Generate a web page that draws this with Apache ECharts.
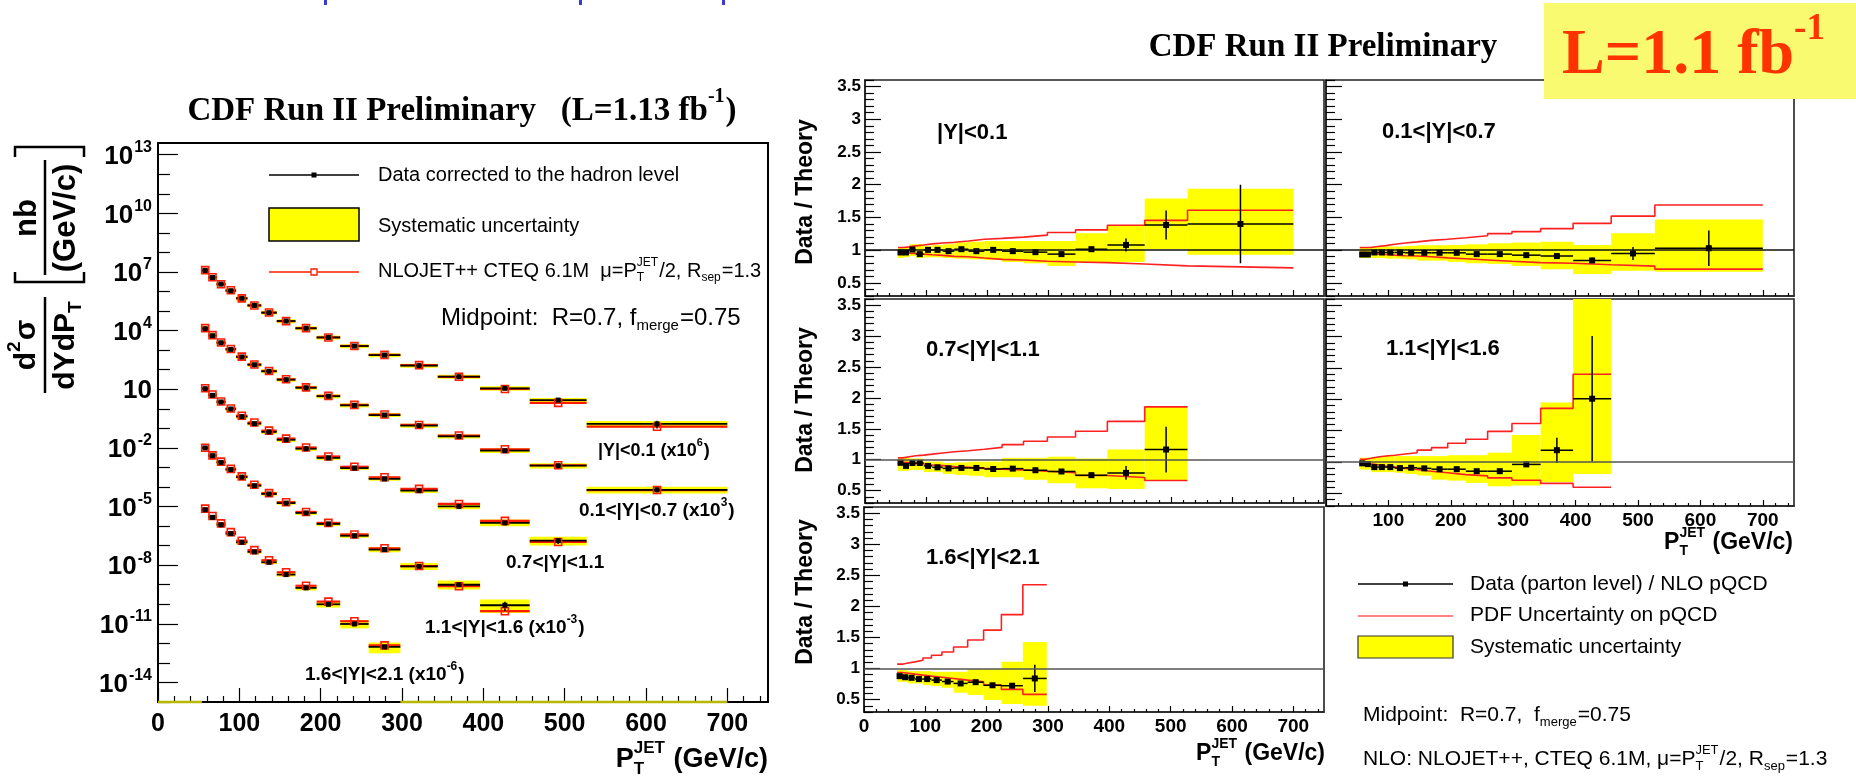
<!DOCTYPE html>
<html><head><meta charset="utf-8">
<script src="https://cdn.jsdelivr.net/npm/echarts@6/dist/echarts.min.js"></script>
<style>html,body{margin:0;padding:0;background:#fff}#c{width:1856px;height:778px}</style>
</head><body><div id="c"></div>
<script>
// ---------------- DATA ----------------
const ptEdges = [54,62,72,83,96,110,127,146,169,195,224,259,298,344,396,457,527,700];
const rapidityLabels = ['|Y|<0.1','0.1<|Y|<0.7','0.7<|Y|<1.1','1.1<|Y|<1.6','1.6<|Y|<2.1'];
const binsPerRapidity = [17,17,16,15,12];

// Left panel: d2sigma/dYdPT as drawn (already multiplied by the bin's scale factor), nb/(GeV/c)
const xsecY0 = [1.2e7,5.2e6,2.4e6,1.1e6,4.5e5,1.95e5,8.3e4,3.1e4,1.32e4,4.5e3,1.62e3,5.6e2,1.62e2,44,11.2,2.8,0.17];
const xsecY1 = [1.26e4,5.5e3,2.4e3,1.1e3,450,180,83,31,12,4.4,1.5,0.48,0.138,0.039,7.2e-3,1.23e-3,7.2e-5];
const xsecY2 = [10.7,4.9,2.24,0.98,0.40,0.174,0.066,0.026,9.1e-3,3.1e-3,9.3e-4,2.6e-4,6.5e-5,1.02e-5,1.45e-6,1.8e-7];
const xsecY3 = [1.0e-2,4.0e-3,1.82e-3,7.8e-4,3.2e-4,1.17e-4,4.4e-5,1.5e-5,4.7e-6,1.29e-6,3.2e-7,6.3e-8,8.7e-9,1.0e-9,8.9e-11];
const xsecY4 = [6.9e-6,2.8e-6,1.17e-6,4.1e-7,1.48e-7,4.8e-8,1.41e-8,3.3e-9,6.9e-10,1.0e-10,9.8e-12,6.6e-13];

// Right panels: Data / Theory
const ratioY0 = [0.965,0.965,1.01,0.94,1.005,1.005,0.985,1.015,0.985,1.005,0.985,0.97,0.94,1.015,1.08,1.385,1.40];
const statY0  = [0.01,0.01,0.01,0.01,0.01,0.01,0.01,0.01,0.01,0.01,0.01,0.012,0.015,0.04,0.1,0.22,0.6];
const sysHiY0 = [1.04,1.04,1.09,1.09,1.065,1.08,1.09,1.12,1.13,1.14,1.14,1.14,1.14,1.26,1.37,1.79,1.94];
const sysLoY0 = [0.88,0.89,0.91,0.88,0.89,0.89,0.88,0.87,0.86,0.85,0.82,0.80,0.76,0.82,0.82,1.015,0.93];
const pdfHiY0 = [1.04,1.05,1.066,1.08,1.096,1.11,1.12,1.14,1.167,1.18,1.20,1.23,1.27,1.31,1.38,1.456,1.61];
const pdfLoY0 = [0.965,0.955,0.95,0.94,0.93,0.92,0.905,0.90,0.88,0.86,0.85,0.83,0.82,0.81,0.79,0.76,0.73];

const ratioY1 = [0.934,0.934,0.965,0.965,0.965,0.965,0.96,0.96,0.96,0.96,0.94,0.94,0.924,0.91,0.843,0.95,1.03];
const statY1  = [0.008,0.008,0.008,0.008,0.008,0.008,0.008,0.008,0.008,0.008,0.01,0.01,0.012,0.015,0.04,0.1,0.27];
const sysHiY1 = [1.035,1.035,1.056,1.056,1.056,1.056,1.066,1.076,1.076,1.08,1.09,1.106,1.117,1.127,1.08,1.26,1.47];
const sysLoY1 = [0.88,0.88,0.88,0.88,0.87,0.87,0.86,0.84,0.84,0.82,0.80,0.79,0.76,0.71,0.635,0.686,0.67];
const pdfHiY1 = [1.04,1.04,1.056,1.07,1.09,1.11,1.127,1.15,1.167,1.19,1.22,1.253,1.284,1.33,1.41,1.52,1.69];
const pdfLoY1 = [0.965,0.955,0.94,0.934,0.924,0.914,0.91,0.90,0.883,0.868,0.85,0.83,0.81,0.80,0.777,0.757,0.71];

const ratioY2 = [0.95,0.90,0.947,0.947,0.90,0.877,0.86,0.867,0.867,0.85,0.856,0.83,0.81,0.75,0.787,1.165];
const statY2  = [0.01,0.01,0.01,0.01,0.01,0.01,0.01,0.01,0.01,0.01,0.01,0.012,0.015,0.04,0.11,0.37];
const sysHiY2 = [1.03,1.03,1.02,1.02,0.97,0.97,0.947,0.957,0.97,0.97,1.03,1.03,1.048,1.02,1.165,1.855];
const sysLoY2 = [0.82,0.82,0.835,0.835,0.80,0.80,0.77,0.755,0.74,0.717,0.717,0.675,0.62,0.54,0.525,0.664];
const pdfHiY2 = [1.03,1.048,1.064,1.075,1.09,1.11,1.128,1.144,1.17,1.20,1.245,1.30,1.368,1.46,1.62,1.855];
const pdfLoY2 = [0.957,0.955,0.94,0.93,0.915,0.904,0.888,0.877,0.86,0.845,0.834,0.813,0.79,0.744,0.712,0.664];

const ratioY3 = [0.98,0.968,0.92,0.92,0.92,0.904,0.91,0.90,0.887,0.887,0.855,0.855,0.963,1.19,2.01];
const statY3  = [0.01,0.01,0.01,0.01,0.01,0.01,0.01,0.01,0.01,0.01,0.012,0.015,0.04,0.2,1.0];
const sysHiY3 = [1.07,1.07,1.08,1.08,1.096,1.096,1.096,1.096,1.096,1.11,1.11,1.15,1.43,1.95,4.0];
const sysLoY3 = [0.88,0.88,0.84,0.84,0.84,0.83,0.81,0.785,0.72,0.705,0.668,0.614,0.625,0.684,0.81];
const pdfHiY3 = [1.043,1.06,1.08,1.096,1.11,1.13,1.15,1.19,1.23,1.30,1.364,1.49,1.616,1.857,2.40];
const pdfLoY3 = [0.99,0.973,0.957,0.936,0.92,0.90,0.882,0.855,0.83,0.80,0.78,0.748,0.71,0.66,0.60];

const ratioY4 = [0.877,0.86,0.85,0.83,0.83,0.813,0.79,0.76,0.78,0.73,0.723,0.84];
const statY4  = [0.01,0.01,0.01,0.01,0.01,0.01,0.01,0.012,0.015,0.02,0.03,0.22];
const sysHiY4 = [0.973,0.973,0.957,0.957,0.957,0.947,0.947,0.947,0.99,0.99,1.107,1.426];
const sysLoY4 = [0.787,0.787,0.76,0.76,0.734,0.717,0.69,0.61,0.574,0.494,0.43,0.40];
const pdfHiY4 = [1.07,1.09,1.107,1.133,1.17,1.213,1.266,1.346,1.46,1.618,1.868,2.348];
const pdfLoY4 = [0.936,0.925,0.91,0.893,0.877,0.86,0.84,0.813,0.787,0.734,0.664,0.584];

// tick labels
const ptTickLabels = [0,100,200,300,400,500,600,700];
const xsecLabelExps = [13,10,7,4,1,-2,-5,-8,-11,-14];
const xsecDecadeExps = [-15,-14,-13,-12,-11,-10,-9,-8,-7,-6,-5,-4,-3,-2,-1,0,1,2,3,4,5,6,7,8,9,10,11,12,13];
const ratioTickLabels = [0.5,1,1.5,2,2.5,3,3.5];
// ------------------------------------------------

const xsec = [xsecY0,xsecY1,xsecY2,xsecY3,xsecY4];
const ratio = [ratioY0,ratioY1,ratioY2,ratioY3,ratioY4];
const stat = [statY0,statY1,statY2,statY3,statY4];
const sysHi = [sysHiY0,sysHiY1,sysHiY2,sysHiY3,sysHiY4];
const sysLo = [sysLoY0,sysLoY1,sysLoY2,sysLoY3,sysLoY4];
const pdfHi = [pdfHiY0,pdfHiY1,pdfHiY2,pdfHiY3,pdfHiY4];
const pdfLo = [pdfLoY0,pdfLoY1,pdfLoY2,pdfLoY3,pdfLoY4];

const FS = '"Liberation Sans", Arial, Helvetica, sans-serif';
const SERIF = '"Liberation Serif", "Times New Roman", serif';
const L10 = Math.log10;

const xMinorTicks = []; for (let v = 20; v < 750; v += 20) if (v % 100) xMinorTicks.push(v);
const rMinorTicks = []; for (let v = 3; v <= 36; v++) if (v % 5) rMinorTicks.push(v / 10);
const decadeMinor = xsecDecadeExps.filter(e => xsecLabelExps.indexOf(e) < 0);

const grids = [], xAxes = [], yAxes = [], series = [];
function addPanel(rect, o) {
  const g = grids.length;
  grids.push({left: rect[0], top: rect[1], width: rect[2], height: rect[3], show: true,
    borderColor: o.frameColor || '#000', borderWidth: o.frameW, backgroundColor: 'rgba(0,0,0,0)'});
  const ls = {color: o.frameColor || '#000', width: o.frameW};
  const tls = {color: '#000', width: 1.2};
  xAxes.push({gridIndex: g, type: 'value', position: 'bottom', min: o.xmin, max: o.xmax, interval: 100,
    axisLine: {show: true, onZero: false, lineStyle: ls}, splitLine: {show: false},
    axisTick: {show: true, inside: true, length: o.xMajLen, customValues: ptTickLabels, lineStyle: tls},
    axisLabel: {show: !!o.xLabels, customValues: o.xLabels || [], margin: o.xLabMargin || 6,
      fontFamily: FS, fontWeight: 'bold', fontSize: o.xLabSize || 18, color: '#000'}});
  xAxes.push({gridIndex: g, type: 'value', position: 'bottom', min: o.xmin, max: o.xmax, interval: 100,
    axisLine: {show: false, onZero: false}, splitLine: {show: false},
    axisTick: {show: true, inside: true, length: o.xMinLen, customValues: xMinorTicks, lineStyle: tls},
    axisLabel: {show: false}});
  yAxes.push({gridIndex: g, type: 'value', position: 'left', min: o.ymin, max: o.ymax, interval: o.yInterval,
    axisLine: {show: true, onZero: false, lineStyle: ls}, splitLine: {show: false},
    axisTick: {show: true, inside: true, length: o.yMajLen, customValues: o.yMajor, lineStyle: tls},
    axisLabel: Object.assign({show: !!o.yLabels, customValues: o.yLabels || [], margin: o.yLabMargin || 5,
      fontFamily: FS, fontWeight: 'bold', fontSize: o.yLabSize || 16, color: '#000'}, o.yLabExtra || {})});
  yAxes.push({gridIndex: g, type: 'value', position: 'left', min: o.ymin, max: o.ymax, interval: o.yInterval,
    axisLine: {show: false, onZero: false}, splitLine: {show: false},
    axisTick: {show: true, inside: true, length: o.yMinLen, customValues: o.yMinor, lineStyle: tls},
    axisLabel: {show: false}});
  return g;
}

// ---------- left panel ----------
const gL = addPanel([158, 143, 610, 559], {
  frameW: 2, xmin: 0, xmax: 750, xMajLen: 14, xMinLen: 6, xLabels: ptTickLabels, xLabMargin: 10, xLabSize: 25,
  ymin: -15, ymax: 13.6, yInterval: 1, yMajor: xsecLabelExps, yMinor: decadeMinor, yMajLen: 20, yMinLen: 12,
  yLabels: xsecLabelExps, yLabMargin: 6,
  yLabExtra: {
    formatter: v => { const e = Math.round(v); return e === 1 ? '{b|10}' : '{b|10}{s|' + e + '}'; },
    rich: {b: {fontFamily: FS, fontWeight: 'bold', fontSize: 26, color: '#000', lineHeight: 30, verticalAlign: 'bottom'},
           s: {fontFamily: FS, fontWeight: 'bold', fontSize: 16, color: '#000', lineHeight: 30, verticalAlign: 'top', padding: [0, 0, 0, 1]}}
  }
});

function leftRender(params, api) {
  const xlo = api.value(0), xhi = api.value(1);
  const yd = api.value(2), ylo = api.value(3), yhi = api.value(4), yt = api.value(5), ysl = api.value(6), ysh = api.value(7);
  const a = api.coord([xlo, yhi]), b = api.coord([xhi, ylo]);
  let top = a[1], bot = b[1];
  if (bot - top < 4) { const m = (top + bot) / 2; top = m - 2; bot = m + 2; }
  const d1 = api.coord([xlo, yd]), d2 = api.coord([xhi, yd]);
  const t1 = api.coord([xlo, yt]), t2 = api.coord([xhi, yt]);
  const cx = (d1[0] + d2[0]) / 2;
  const s1 = api.coord([xlo, ysh]), s2 = api.coord([xlo, ysl]);
  return {type: 'group', children: [
    {type: 'rect', shape: {x: a[0], y: top, width: b[0] - a[0], height: bot - top}, style: {fill: '#ffff00'}},
    {type: 'line', shape: {x1: t1[0], y1: t1[1], x2: t2[0], y2: t2[1]}, style: {stroke: '#ff1a00', lineWidth: 2.2}},
    {type: 'line', shape: {x1: d1[0], y1: d1[1], x2: d2[0], y2: d2[1]}, style: {stroke: '#000', lineWidth: 1.8}},
    {type: 'line', shape: {x1: cx, y1: s1[1], x2: cx, y2: s2[1]}, style: {stroke: '#000', lineWidth: 1.5}},
    {type: 'rect', shape: {x: cx - 3.5, y: t1[1] - 3.5, width: 7, height: 7}, style: {fill: 'rgba(0,0,0,0)', stroke: '#ff1a00', lineWidth: 1.6}},
    {type: 'rect', shape: {x: cx - 2.5, y: d1[1] - 2.5, width: 5, height: 5}, style: {fill: '#000'}}
  ]};
}

for (let j = 0; j < 5; j++) {
  const data = [];
  for (let i = 0; i < binsPerRapidity[j]; i++) {
    const d = xsec[j][i], r = ratio[j][i];
    const srel = stat[j][i] / r;
    data.push([ptEdges[i], ptEdges[i + 1], L10(d), L10(d * sysLo[j][i] / r), L10(d * sysHi[j][i] / r),
      L10(d / r), L10(d * Math.max(0.05, 1 - srel)), L10(d * (1 + srel))]);
  }
  series.push({type: 'custom', xAxisIndex: 2 * gL, yAxisIndex: 2 * gL, renderItem: leftRender, data: data, z: 3, silent: true});
}
// empty bins of the most forward rapidity histogram, drawn on the lower frame edge
const nF = binsPerRapidity[4];
[[0, ptEdges[0]], [ptEdges[nF], ptEdges[ptEdges.length - 1]]].forEach(rg => {
  series.push({type: 'line', xAxisIndex: 2 * gL, yAxisIndex: 2 * gL, clip: false, symbol: 'none', z: 4, silent: true,
    data: [[rg[0], -15], [rg[1], -15]], lineStyle: {color: '#b8b800', width: 2.5}});
});

// ---------- ratio panels ----------
const panelRects = [[865, 80, 459, 216], [1326, 80, 468, 216], [865, 299, 459, 204], [1326, 299, 468, 207], [864, 507, 460, 205]];
const panelYLabels = [true, false, true, false, true];
const panelXLabels = [null, null, null, [100,200,300,400,500,600,700], ptTickLabels];
const unityColor = ['#111', '#111', '#555', '#555', '#555'];

function yellowRender(params, api) {
  const a = api.coord([api.value(0), api.value(3)]);
  const b = api.coord([api.value(1), api.value(2)]);
  const cs = params.coordSys;
  const r = echarts.graphic.clipRectByRect({x: a[0], y: a[1], width: b[0] - a[0], height: b[1] - a[1]},
    {x: cs.x, y: cs.y, width: cs.width, height: cs.height});
  return r ? {type: 'rect', shape: r, style: {fill: '#ffff00'}} : null;
}
function pointRender(params, api) {
  const xlo = api.value(0), xhi = api.value(1), r = api.value(2), e = api.value(3);
  const p1 = api.coord([xlo, r]), p2 = api.coord([xhi, r]);
  const cx = (p1[0] + p2[0]) / 2;
  const t = api.coord([xlo, r + e]), bt = api.coord([xlo, r - e]);
  return {type: 'group', children: [
    {type: 'line', shape: {x1: p1[0], y1: p1[1], x2: p2[0], y2: p2[1]}, style: {stroke: '#000', lineWidth: 1.5}},
    {type: 'line', shape: {x1: cx, y1: t[1], x2: cx, y2: bt[1]}, style: {stroke: '#000', lineWidth: 1.5}},
    {type: 'rect', shape: {x: cx - 3, y: p1[1] - 3, width: 6, height: 6}, style: {fill: '#000'}}
  ]};
}

for (let k = 0; k < 5; k++) {
  const g = addPanel(panelRects[k], {
    frameW: 1.6, frameColor: '#222', xmin: 0, xmax: 750, xMajLen: 6, xMinLen: 3, xLabels: panelXLabels[k], xLabMargin: 5, xLabSize: 19,
    ymin: 0.3, ymax: 3.6, yInterval: 0.1, yMajor: ratioTickLabels, yMinor: rMinorTicks, yMajLen: 16, yMinLen: 9,
    yLabels: panelYLabels[k] ? ratioTickLabels : null, yLabMargin: 4, yLabSize: 17
  });
  const n = binsPerRapidity[k];
  const yd = [], pd = [], hi = [], lo = [];
  for (let i = 0; i < n; i++) {
    yd.push([ptEdges[i], ptEdges[i + 1], sysLo[k][i], sysHi[k][i]]);
    pd.push([ptEdges[i], ptEdges[i + 1], ratio[k][i], stat[k][i]]);
    hi.push([ptEdges[i], pdfHi[k][i]]);
    lo.push([ptEdges[i], pdfLo[k][i]]);
  }
  hi.push([ptEdges[n], pdfHi[k][n - 1]]);
  lo.push([ptEdges[n], pdfLo[k][n - 1]]);
  const ax = {xAxisIndex: 2 * g, yAxisIndex: 2 * g};
  series.push(Object.assign({type: 'custom', renderItem: yellowRender, data: yd, z: 1, silent: true}, ax));
  series.push(Object.assign({type: 'line', data: hi, step: 'end', symbol: 'none', z: 2, silent: true,
    lineStyle: {color: '#ff2020', width: 1.6},
    markLine: {silent: true, symbol: ['none', 'none'], label: {show: false}, animation: false,
      lineStyle: {color: unityColor[k], width: 1.6, type: 'solid'}, data: [{yAxis: 1}]}}, ax));
  series.push(Object.assign({type: 'line', data: lo, step: 'end', symbol: 'none', z: 2, silent: true,
    lineStyle: {color: '#ff2020', width: 1.6}}, ax));
  series.push(Object.assign({type: 'custom', renderItem: pointRender, data: pd, z: 4, silent: true}, ax));
}

// ---------- text helpers ----------
const mctx = document.createElement('canvas').getContext('2d');
function mtext(x, y, parts, o) {
  const fam = o.family || FS, wt = o.weight || 'normal', s = o.size, ss = Math.round(s * (o.sr || 0.62)), col = o.color || '#000';
  const f = sz => wt + ' ' + sz + 'px ' + fam;
  const items = []; let cx = 0;
  parts.forEach(p => {
    if (typeof p === 'string') { items.push({t: p, x: cx, dy: 0, sz: s}); mctx.font = f(s); cx += mctx.measureText(p).width; }
    else {
      mctx.font = f(ss); let w = 0;
      if (p.sup != null) { items.push({t: p.sup, x: cx, dy: -s * 0.42, sz: ss}); w = Math.max(w, mctx.measureText(p.sup).width); }
      if (p.sub != null) { items.push({t: p.sub, x: cx, dy: s * 0.34, sz: ss}); w = Math.max(w, mctx.measureText(p.sub).width); }
      cx += w + 1;
    }
  });
  const off = o.align === 'right' ? -cx : o.align === 'center' ? -cx / 2 : 0;
  return items.map(it => ({type: 'text', x: x + off + it.x, y: y + it.dy, z: 20,
    style: {text: it.t, font: f(it.sz), fill: col, align: 'left', verticalAlign: 'middle'}}));
}
function hline(x1, y1, x2, y2, color, w) {
  return {type: 'line', z: 20, shape: {x1: x1, y1: y1, x2: x2, y2: y2}, style: {stroke: color, lineWidth: w}};
}

const G = [];
// top-left blue fragments (cut-off text above the figure)
[[324, 0], [579, 0], [722, 0]].forEach(p => G.push({type: 'rect', z: 20, shape: {x: p[0], y: p[1], width: 3, height: 5}, style: {fill: '#3a3ad0'}}));

// titles
G.push(...mtext(462, 111, ['CDF Run II Preliminary   (L=1.13 fb', {sup: '-1'}, ')'], {size: 33, weight: 'bold', family: SERIF, align: 'center', sr: 0.6}));
G.push(...mtext(1323, 47, ['CDF Run II Preliminary'], {size: 33, weight: 'bold', family: SERIF, align: 'center'}));
G.push({type: 'rect', z: 15, shape: {x: 1544, y: 3, width: 312, height: 96}, style: {fill: '#fafa70'}});
G.push(...mtext(1562, 56, ['L=1.1 fb', {sup: '-1'}], {size: 64, weight: 'bold', family: SERIF, color: '#ff3300', sr: 0.58}));

// left y title (rotated)
const yt = [];
yt.push({type: 'line', shape: {x1: 0, y1: 0, x2: 96, y2: 0}, style: {stroke: '#000', lineWidth: 2.5}});
yt.push(...mtext(48, -18, ['d', {sup: '2'}, 'σ'], {size: 30, weight: 'bold', align: 'center'}));
yt.push(...mtext(48, 21, ['dYdP', {sub: 'T'}], {size: 30, weight: 'bold', align: 'center'}));
yt.push({type: 'polyline', shape: {points: [[121, -30], [111, -30], [111, 39], [121, 39]]}, style: {stroke: '#000', lineWidth: 2.5, fill: null}});
yt.push({type: 'polyline', shape: {points: [[236, -30], [246, -30], [246, 39], [236, 39]]}, style: {stroke: '#000', lineWidth: 2.5, fill: null}});
yt.push({type: 'line', shape: {x1: 118, y1: 0, x2: 233, y2: 0}, style: {stroke: '#000', lineWidth: 2.5}});
yt.push(...mtext(175, -18, ['nb'], {size: 31, weight: 'bold', align: 'center'}));
yt.push(...mtext(175, 21, ['(GeV/c)'], {size: 31, weight: 'bold', align: 'center'}));
G.push({type: 'group', x: 45, y: 393, rotation: Math.PI / 2, z: 20, children: yt});

// left x title
G.push(...mtext(768, 760, ['P', {sup: 'JET', sub: 'T'}, ' (GeV/c)'], {size: 27, weight: 'bold', align: 'right'}));

// left legend
G.push(hline(269, 175, 359, 175, '#000', 1.5));
G.push({type: 'rect', z: 21, shape: {x: 311.5, y: 172.5, width: 5, height: 5}, style: {fill: '#000'}});
G.push(...mtext(378, 175, ['Data corrected to the hadron level'], {size: 20}));
G.push({type: 'rect', z: 20, shape: {x: 269, y: 208, width: 90, height: 33}, style: {fill: '#ffff00', stroke: '#000', lineWidth: 1.5}});
G.push(...mtext(378, 226, ['Systematic uncertainty'], {size: 20}));
G.push(hline(269, 272, 359, 272, '#ff1a00', 1.5));
G.push({type: 'rect', z: 21, shape: {x: 311, y: 269, width: 6, height: 6}, style: {fill: '#fff', stroke: '#ff1a00', lineWidth: 1.3}});
G.push(...mtext(378, 271, ['NLOJET++ CTEQ 6.1M  μ=P', {sup: 'JET', sub: 'T'}, '/2, R', {sub: 'sep'}, '=1.3'], {size: 20}));
G.push(...mtext(441, 318, ['Midpoint:  R=0.7, f', {sub: 'merge'}, '=0.75'], {size: 24}));

// rapidity labels in the left panel
G.push(...mtext(598, 451, ['|Y|<0.1 (x10', {sup: '6'}, ')'], {size: 18, weight: 'bold'}));
G.push(...mtext(579, 511, ['0.1<|Y|<0.7 (x10', {sup: '3'}, ')'], {size: 19, weight: 'bold'}));
G.push(...mtext(506, 563, ['0.7<|Y|<1.1'], {size: 19, weight: 'bold'}));
G.push(...mtext(425, 628, ['1.1<|Y|<1.6 (x10', {sup: '-3'}, ')'], {size: 19, weight: 'bold'}));
G.push(...mtext(305, 675, ['1.6<|Y|<2.1 (x10', {sup: '-6'}, ')'], {size: 19, weight: 'bold'}));

// ratio panel texts
[[192], [400], [592]].forEach(p => G.push({type: 'text', z: 20, x: 806, y: p[0], rotation: Math.PI / 2,
  style: {text: 'Data / Theory', font: 'bold 23px ' + FS, fill: '#000', align: 'center', verticalAlign: 'middle'}}));
const lblPos = [[937, 133], [1382, 132], [926, 350], [1386, 349], [926, 558]];
rapidityLabels.forEach((t, k) => G.push(...mtext(lblPos[k][0], lblPos[k][1], [t], {size: 22, weight: 'bold'})));
G.push(...mtext(1325, 754, ['P', {sup: 'JET', sub: 'T'}, ' (GeV/c)'], {size: 23, weight: 'bold', align: 'right'}));
G.push(...mtext(1793, 543, ['P', {sup: 'JET', sub: 'T'}, ' (GeV/c)'], {size: 23, weight: 'bold', align: 'right'}));

// right legend
G.push(hline(1358, 584, 1453, 584, '#000', 1.3));
G.push({type: 'rect', z: 21, shape: {x: 1403, y: 581.5, width: 5, height: 5}, style: {fill: '#000'}});
G.push(...mtext(1470, 584, ['Data (parton level) / NLO pQCD'], {size: 21}));
G.push(hline(1358, 616, 1453, 616, '#ff5a5a', 1.5));
G.push(...mtext(1470, 615, ['PDF Uncertainty on pQCD'], {size: 21}));
G.push({type: 'rect', z: 20, shape: {x: 1358, y: 636, width: 95, height: 22}, style: {fill: '#ffff00', stroke: '#333', lineWidth: 1.2}});
G.push(...mtext(1470, 647, ['Systematic uncertainty'], {size: 21}));
G.push(...mtext(1363, 715, ['Midpoint:  R=0.7,  f', {sub: 'merge'}, '=0.75'], {size: 21}));
G.push(...mtext(1363, 759, ['NLO: NLOJET++, CTEQ 6.1M, μ=P', {sup: 'JET', sub: 'T'}, '/2, R', {sub: 'sep'}, '=1.3'], {size: 21}));

const chart = echarts.init(document.getElementById('c'), null, {renderer: 'canvas'});
chart.setOption({
  animation: false,
  backgroundColor: '#fff',
  grid: grids, xAxis: xAxes, yAxis: yAxes, series: series,
  graphic: {elements: G}
});
</script></body></html>
